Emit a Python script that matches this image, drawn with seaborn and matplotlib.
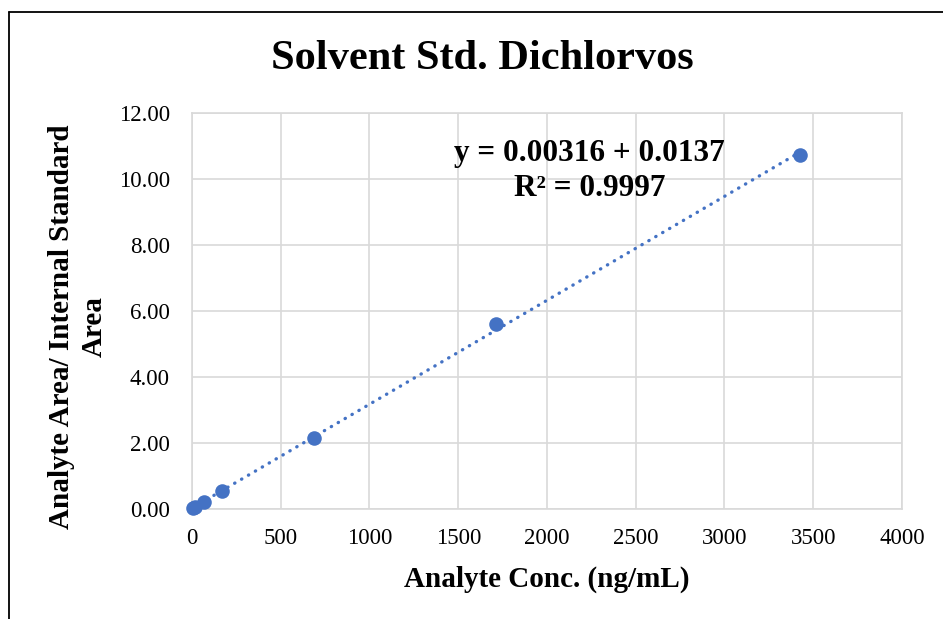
import matplotlib
matplotlib.use("Agg")
import matplotlib.pyplot as plt
import seaborn as sns
import pandas as pd
from matplotlib.lines import Line2D

# data
conc = [6.85, 17.1, 68.5, 171, 685, 1712, 3425]          # ng/mL
ratio = [0.02, 0.06, 0.22, 0.55, 2.15, 5.62, 10.72]       # analyte / IS area
x_ticks = [0, 500, 1000, 1500, 2000, 2500, 3000, 3500, 4000]
y_ticks = [0, 2, 4, 6, 8, 10, 12]
title = "Solvent Std. Dichlorvos"
eq_text = "y = 0.00316 + 0.0137\nR² = 0.9997"

df = pd.DataFrame({"conc": conc, "ratio": ratio})

sns.set_theme(style="whitegrid")
plt.rcParams["font.family"] = ["Liberation Serif", "DejaVu Serif"]
plt.rcParams["text.color"] = "black"
plt.rcParams["axes.labelcolor"] = "black"

blue = "#4472C4"

fig = plt.figure(figsize=(9.43, 6.19), dpi=100)
ax = fig.add_axes([0.2036, 0.1777, 0.7529, 0.6397])

# dotted linear trendline
sns.regplot(data=df, x="conc", y="ratio", ax=ax, scatter=False, ci=None,
            color=blue,
            line_kws=dict(linewidth=2.4, linestyle=(0, (0.1, 2.3)),
                          dash_capstyle="round"))
sns.scatterplot(data=df, x="conc", y="ratio", ax=ax, color=blue, s=110,
                edgecolor=blue, linewidth=0, zorder=3, clip_on=False)

ax.set_xlim(0, 4000)
ax.set_ylim(0, 12)
ax.set_xticks(x_ticks)
ax.set_yticks(y_ticks)
ax.set_yticklabels([f"{v:.2f}" for v in y_ticks])
ax.tick_params(axis="both", labelsize=16.5, colors="black", length=0)
ax.tick_params(axis="x", pad=14)
ax.tick_params(axis="y", pad=16)
ax.grid(True, color="#D9D9D9", linewidth=1.2)
for sp in ax.spines.values():
    sp.set_color("#D9D9D9")
    sp.set_linewidth(1.2)

ax.set_xlabel("Analyte Conc. (ng/mL)", fontsize=21, fontweight="bold", labelpad=12)
ax.set_ylabel("Analyte Area/ Internal Standard\nArea", fontsize=21,
              fontweight="bold", linespacing=1.25)
ax.yaxis.set_label_coords(-0.1606, 0.4596)
ax.yaxis.label.set_verticalalignment("center")

ax.text(2240, 10.23, eq_text, ha="center", va="center", fontsize=22.5,
        fontweight="bold", linespacing=1.27)

fig.text(0.511, 0.905, title, ha="center", va="center", fontsize=30.5,
         fontweight="bold")

# chart frame (cut off on the right and bottom)
fx, fy = 8.5 / 943, 1 - 11.5 / 619
fig.add_artist(Line2D([fx, fx], [0, fy], color="black", linewidth=1.3,
                      transform=fig.transFigure))
fig.add_artist(Line2D([fx, 1], [fy, fy], color="black", linewidth=1.3,
                      transform=fig.transFigure))

fig.savefig("out.png", dpi=100)
